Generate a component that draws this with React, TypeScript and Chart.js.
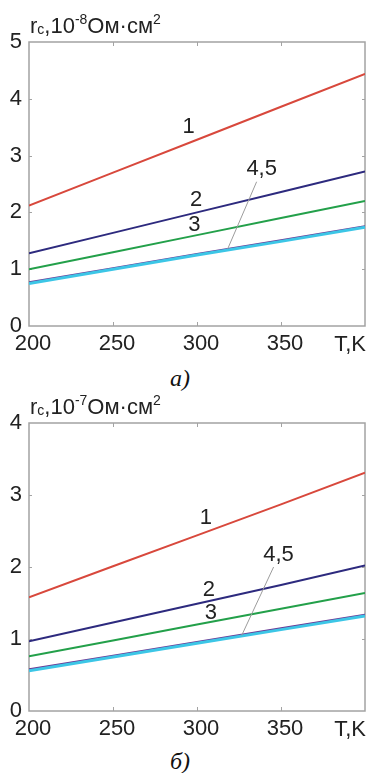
import React, { useEffect, useRef } from "react";
import { Chart, registerables } from "chart.js";

Chart.register(...registerables);

// ---------- data ----------
const temperatures = [200, 250, 300, 350, 400];
const xTickLabels = ["200", "250", "300", "350", "T,K"];
const seriesNames = ["1", "2", "3", "4", "5"];

// panel a) r_c, 10^-8 Ohm*cm^2
const panelA_curve1 = [2.12, 2.70, 3.28, 3.86, 4.44];
const panelA_curve2 = [1.28, 1.64, 2.0, 2.36, 2.72];
const panelA_curve3 = [1.0, 1.30, 1.60, 1.90, 2.20];
const panelA_curve4 = [0.77, 1.02, 1.27, 1.51, 1.76];
const panelA_curve5 = [0.75, 1.0, 1.25, 1.49, 1.74];
const panelA_yTicks = [0, 1, 2, 3, 4, 5];

// panel б) r_c, 10^-7 Ohm*cm^2
const panelB_curve1 = [1.58, 2.01, 2.44, 2.87, 3.31];
const panelB_curve2 = [0.97, 1.23, 1.49, 1.75, 2.02];
const panelB_curve3 = [0.76, 0.98, 1.20, 1.42, 1.64];
const panelB_curve4 = [0.58, 0.77, 0.96, 1.15, 1.34];
const panelB_curve5 = [0.56, 0.75, 0.94, 1.13, 1.32];
const panelB_yTicks = [0, 1, 2, 3, 4];

const seriesColors = ["#d8483c", "#2d2a7e", "#23a04a", "#6a3a96", "#3cc6e6"];
const seriesWidths = [2, 2, 2, 1.8, 3];

const FONT = "'Liberation Sans', Arial, sans-serif";

type Label = { text: string; t: number; v: number };
type Panel = {
  curves: number[][];
  yTicks: number[];
  exponent: string;
  labels: Label[];
  leader: { t: number; v: number }[];
};

const panelA: Panel = {
  curves: [panelA_curve1, panelA_curve2, panelA_curve3, panelA_curve4, panelA_curve5],
  yTicks: panelA_yTicks,
  exponent: "-8",
  labels: [
    { text: "1", t: 295, v: 3.5 },
    { text: "2", t: 299.5, v: 2.22 },
    { text: "3", t: 298.5, v: 1.78 },
    { text: "4,5", t: 338.5, v: 2.76 },
  ],
  leader: [
    { t: 335.5, v: 2.54 },
    { t: 318.3, v: 1.36 },
  ],
};

const panelB: Panel = {
  curves: [panelB_curve1, panelB_curve2, panelB_curve3, panelB_curve4, panelB_curve5],
  yTicks: panelB_yTicks,
  exponent: "-7",
  labels: [
    { text: "1", t: 305.3, v: 2.68 },
    { text: "2", t: 307.1, v: 1.68 },
    { text: "3", t: 308.3, v: 1.36 },
    { text: "4,5", t: 348.5, v: 2.17 },
  ],
  leader: [
    { t: 345.6, v: 2.0 },
    { t: 326.6, v: 1.05 },
  ],
};

const framePlugin = {
  id: "frame",
  beforeDatasetsDraw(chart: any) {
    const { ctx, chartArea, scales } = chart;
    const { left, right, top, bottom } = chartArea;
    ctx.save();
    ctx.strokeStyle = "#a3a3a3";
    ctx.lineWidth = 1.5;
    ctx.strokeRect(left, top, right - left, bottom - top);
    ctx.lineWidth = 1;
    scales.x.ticks.forEach((tk: any) => {
      if (tk.value <= scales.x.min || tk.value >= scales.x.max) return;
      const px = Math.round(scales.x.getPixelForValue(tk.value)) + 0.5;
      ctx.beginPath();
      ctx.moveTo(px, bottom);
      ctx.lineTo(px, bottom - 4);
      ctx.moveTo(px, top);
      ctx.lineTo(px, top + 4);
      ctx.stroke();
    });
    scales.y.ticks.forEach((tk: any) => {
      if (tk.value <= scales.y.min || tk.value >= scales.y.max) return;
      const py = Math.round(scales.y.getPixelForValue(tk.value)) + 0.5;
      ctx.beginPath();
      ctx.moveTo(left, py);
      ctx.lineTo(left + 3, py);
      ctx.moveTo(right, py);
      ctx.lineTo(right - 3, py);
      ctx.stroke();
    });
    ctx.restore();
  },
  afterDraw(chart: any) {
    const { ctx, chartArea, scales } = chart;
    const panel: Panel = chart.options.plugins.frame.panel;
    const { left, right, top, bottom } = chartArea;
    ctx.save();
    // leader line
    ctx.strokeStyle = "#9c9c9c";
    ctx.lineWidth = 1;
    ctx.beginPath();
    panel.leader.forEach((p, i) => {
      const px = scales.x.getPixelForValue(p.t);
      const py = scales.y.getPixelForValue(p.v);
      if (i === 0) ctx.moveTo(px, py);
      else ctx.lineTo(px, py);
    });
    ctx.stroke();
    // curve labels
    ctx.fillStyle = "#222";
    ctx.font = `22px ${FONT}`;
    ctx.textAlign = "center";
    ctx.textBaseline = "middle";
    panel.labels.forEach((l) => {
      ctx.fillText(l.text, scales.x.getPixelForValue(l.t), scales.y.getPixelForValue(l.v));
    });
    // last x tick label
    ctx.textAlign = "right";
    ctx.fillText(xTickLabels[xTickLabels.length - 1], right + 1, bottom + 19);
    // axis title
    ctx.textAlign = "left";
    ctx.textBaseline = "alphabetic";
    const base = top - 9;
    let x = left + 1;
    const seg = (text: string, size: number, dy: number) => {
      ctx.font = `${size}px ${FONT}`;
      ctx.fillText(text, x, base + dy);
      x += ctx.measureText(text).width;
    };
    seg("r", 22, 0);
    seg("c", 14, 1);
    seg(",10", 22, 0);
    seg(panel.exponent, 14, -9);
    seg("Ом·см", 22, 0);
    seg("2", 14, -9);
    ctx.restore();
  },
};

function PanelChart({ panel, top, padTop }: { panel: Panel; top: number; padTop: number }) {
  const ref = useRef<HTMLCanvasElement | null>(null);
  useEffect(() => {
    if (!ref.current) return;
    const yMax = panel.yTicks[panel.yTicks.length - 1];
    const chart = new Chart(ref.current, {
      type: "line",
      data: {
        datasets: panel.curves.map((vals, i) => ({
          label: seriesNames[i],
          data: temperatures.map((t, j) => ({ x: t, y: vals[j] })),
          borderColor: seriesColors[i],
          borderWidth: seriesWidths[i],
          pointRadius: 0,
          fill: false,
          tension: 0,
          order: 5 - i,
        })),
      },
      options: {
        responsive: false,
        animation: false,
        layout: { padding: { top: padTop, right: 3, left: 0, bottom: 0 } },
        plugins: {
          legend: { display: false },
          tooltip: { enabled: false },
          frame: { panel },
        } as any,
        scales: {
          x: {
            type: "linear",
            min: 200,
            max: 400,
            afterFit: (s: any) => {
              s.height = 34;
            },
            grid: { display: false, drawTicks: false },
            border: { display: false },
            ticks: {
              stepSize: 50,
              autoSkip: false,
              maxRotation: 0,
              padding: 5,
              labelOffset: 4,
              color: "#222",
              font: { family: FONT, size: 22 },
              callback: (v: any) => {
                const idx = temperatures.indexOf(Number(v));
                if (idx < 0 || idx === temperatures.length - 1) return "";
                return xTickLabels[idx];
              },
            },
          },
          y: {
            type: "linear",
            min: 0,
            max: yMax,
            afterFit: (s: any) => {
              s.width = 29;
            },
            grid: { display: false, drawTicks: false },
            border: { display: false },
            ticks: {
              stepSize: 1,
              padding: 7,
              color: "#222",
              font: { family: FONT, size: 22 },
              callback: (v: any) => (panel.yTicks.includes(Number(v)) ? String(v) : ""),
            },
          },
        },
      },
      plugins: [framePlugin],
    });
    return () => chart.destroy();
  }, [panel, padTop]);
  return (
    <canvas
      ref={ref}
      width={370}
      height={360}
      style={{ position: "absolute", left: 0, top, width: 370, height: 360, display: "block" }}
    />
  );
}

const captionStyle: React.CSSProperties = {
  position: "absolute",
  left: 170,
  fontFamily: "'Liberation Serif', 'Times New Roman', serif",
  fontStyle: "italic",
  fontSize: 24,
  lineHeight: "26px",
  color: "#111",
};

export default function App() {
  return (
    <div
      style={{
        position: "absolute",
        left: 0,
        top: 0,
        width: 370,
        height: 773,
        background: "#fff",
        overflow: "hidden",
      }}
    >
      <PanelChart panel={panelA} top={0} padTop={42} />
      <div style={{ ...captionStyle, top: 365 }}>а)</div>
      <PanelChart panel={panelB} top={385} padTop={38} />
      <div style={{ ...captionStyle, top: 748 }}>б)</div>
    </div>
  );
}
